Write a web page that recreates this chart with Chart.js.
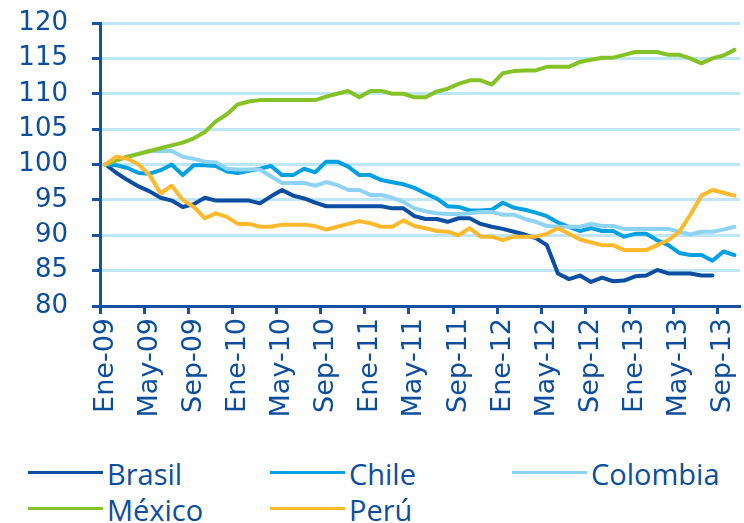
<!DOCTYPE html>
<html>
<head>
<meta charset="utf-8">
<script src="https://cdn.jsdelivr.net/npm/chart.js@4"></script>
<style>
  html, body { margin: 0; padding: 0; background: #fff; }
  .wrap { position: relative; width: 744px; height: 523px; overflow: hidden; }
  .chart-box { position: absolute; left: 0; top: 0; width: 744px; height: 450px; }
  .legend-item { position: absolute; font-family: "Open Sans", sans-serif; font-size: 29px; color: #0d4e9c; white-space: nowrap; }
  .legend-item span.swatch { position: absolute; left: 0; width: 75px; height: 3px; }
  .legend-item span.txt { position: absolute; left: 79px; top: 0; line-height: 1; }
</style>
</head>
<body>
<div class="wrap">
  <div class="chart-box"><canvas id="indexChart"></canvas></div>
  <div class="legend-container"></div>
</div>
<script>
const labels = [
  "Ene-09","Feb-09","Mar-09","Abr-09","May-09","Jun-09","Jul-09","Ago-09","Sep-09","Oct-09","Nov-09","Dic-09",
  "Ene-10","Feb-10","Mar-10","Abr-10","May-10","Jun-10","Jul-10","Ago-10","Sep-10","Oct-10","Nov-10","Dic-10",
  "Ene-11","Feb-11","Mar-11","Abr-11","May-11","Jun-11","Jul-11","Ago-11","Sep-11","Oct-11","Nov-11","Dic-11",
  "Ene-12","Feb-12","Mar-12","Abr-12","May-12","Jun-12","Jul-12","Ago-12","Sep-12","Oct-12","Nov-12","Dic-12",
  "Ene-13","Feb-13","Mar-13","Abr-13","May-13","Jun-13","Jul-13","Ago-13","Sep-13","Oct-13"
];

const brasil = [100, 98.8, 97.8, 96.9, 96.2, 95.3, 94.9, 94.0, 94.4, 95.3,
  94.9, 94.9, 94.9, 94.9, 94.5, 95.5, 96.4, 95.6, 95.2, 94.6,
  94.1, 94.1, 94.1, 94.1, 94.1, 94.1, 93.8, 93.8, 92.7, 92.3,
  92.3, 91.9, 92.4, 92.4, 91.6, 91.2, 90.9, 90.5, 90.1, 89.6,
  88.6, 84.6, 83.8, 84.3, 83.4, 84.0, 83.5, 83.6, 84.2, 84.3,
  85.1, 84.6, 84.6, 84.6, 84.3, 84.3, null, null];

const chile = [100, 99.9, 99.5, 98.8, 98.7, 99.2, 100.0, 98.5, 99.9, 99.9,
  99.8, 99.0, 98.8, 99.1, 99.4, 99.8, 98.5, 98.5, 99.4, 98.9,
  100.4, 100.4, 99.7, 98.5, 98.5, 97.8, 97.5, 97.2, 96.7, 95.9,
  95.2, 94.1, 94.0, 93.5, 93.5, 93.6, 94.6, 93.9, 93.6, 93.2,
  92.7, 91.8, 91.2, 90.6, 91.0, 90.6, 90.6, 89.8, 90.2, 90.2,
  89.3, 88.6, 87.5, 87.2, 87.2, 86.4, 87.7, 87.2];

const colombia = [100, 100.6, 101.1, 101.5, 101.9, 101.9, 101.9, 101.1, 100.8, 100.4,
  100.3, 99.4, 99.3, 99.3, 99.3, 98.3, 97.4, 97.4, 97.4, 97.0,
  97.5, 97.1, 96.4, 96.4, 95.7, 95.7, 95.3, 94.7, 93.8, 93.4,
  93.1, 93.0, 93.0, 93.1, 93.3, 93.3, 92.9, 92.9, 92.3, 91.9,
  91.3, 91.2, 91.2, 91.2, 91.6, 91.3, 91.3, 90.9, 90.9, 90.9,
  90.9, 90.9, 90.5, 90.1, 90.5, 90.5, 90.8, 91.2];

const mexico = [100, 100.6, 101.1, 101.5, 101.9, 102.3, 102.7, 103.1, 103.7, 104.6,
  106.1, 107.1, 108.5, 108.9, 109.1, 109.1, 109.1, 109.1, 109.1, 109.1,
  109.6, 110.0, 110.4, 109.5, 110.4, 110.4, 110.0, 110.0, 109.5, 109.5,
  110.3, 110.7, 111.4, 111.9, 111.9, 111.3, 112.9, 113.2, 113.3, 113.3,
  113.8, 113.8, 113.8, 114.5, 114.8, 115.1, 115.1, 115.5, 115.9, 115.9,
  115.9, 115.5, 115.5, 115.0, 114.3, 115.0, 115.4, 116.2];

const peru = [100, 101.1, 100.8, 100.0, 98.5, 95.9, 97.0, 95.0, 94.0, 92.4,
  93.1, 92.6, 91.6, 91.6, 91.2, 91.2, 91.5, 91.5, 91.5, 91.3,
  90.8, 91.2, 91.6, 92.0, 91.7, 91.2, 91.2, 92.1, 91.3, 91.0,
  90.6, 90.5, 90.0, 91.0, 89.8, 89.8, 89.3, 89.8, 89.8, 89.8,
  90.2, 91.0, 90.2, 89.4, 89.0, 88.6, 88.6, 87.9, 87.9, 87.9,
  88.6, 89.3, 90.5, 92.9, 95.6, 96.4, 96.0, 95.6];

const yMin = 80, yMax = 120, yStep = 5;

const axisBlue = "#1652a1";
const textBlue = "#0d4e9c";
const gridBlue = "#bfe6f7";

const series = [
  { name: "Brasil",   data: brasil,   color: "#0b4ea2", order: 5 },
  { name: "Chile",    data: chile,    color: "#00a0e2", order: 4 },
  { name: "Colombia", data: colombia, color: "#8ed3f4", order: 3 },
  { name: "México",   data: mexico,   color: "#85c225", order: 2 },
  { name: "Perú",     data: peru,     color: "#fdb92e", order: 1 }
];

const datasets = series.map(s => ({
  label: s.name,
  data: s.data,
  borderColor: s.color,
  backgroundColor: s.color,
  borderWidth: 4,
  pointRadius: 0,
  tension: 0,
  borderJoinStyle: "round",
  borderCapStyle: "round",
  order: s.order
}));

const ctx = document.getElementById("indexChart").getContext("2d");

new Chart(ctx, {
  type: "line",
  data: { labels: labels, datasets: datasets },
  options: {
    responsive: true,
    maintainAspectRatio: false,
    animation: false,
    layout: { padding: { top: 23, right: 4, left: 0, bottom: 0 } },
    plugins: {
      legend: { display: false },
      tooltip: { enabled: false }
    },
    scales: {
      x: {
        type: "category",
        offset: true,
        afterFit: (scale) => {
          scale.height = 144;
          scale.paddingLeft = 0;
          scale.paddingRight = 0;
        },
        grid: {
          offset: true,
          drawOnChartArea: false,
          drawTicks: true,
          tickLength: 8,
          tickWidth: 3,
          tickColor: (c) => (c.index % 4 === 0 ? axisBlue : "rgba(0,0,0,0)")
        },
        border: { color: axisBlue, width: 3 },
        ticks: {
          autoSkip: false,
          minRotation: 90,
          maxRotation: 90,
          padding: 4,
          color: textBlue,
          font: { family: "DejaVu Sans", size: 27 },
          callback: function (value, index) {
            return index % 4 === 0 ? labels[index] : "";
          }
        }
      },
      y: {
        min: yMin,
        max: yMax,
        afterFit: (scale) => {
          scale.width = 100;
          scale.paddingTop = 0;
          scale.paddingBottom = 0;
        },
        grid: {
          color: gridBlue,
          lineWidth: 3,
          tickLength: 8,
          tickColor: axisBlue,
          tickWidth: 3
        },
        border: { color: axisBlue, width: 3 },
        ticks: {
          stepSize: yStep,
          padding: 24,
          color: textBlue,
          font: { family: "DejaVu Sans", size: 26 }
        }
      }
    }
  }
});

// legend laid out as a grid, like the original
const legendSpots = [
  { left: 28,  top: 472 },
  { left: 270, top: 472 },
  { left: 512, top: 472 },
  { left: 28,  top: 508 },
  { left: 270, top: 508 }
];

let legendHTML = "";
series.forEach((s, i) => {
  const spot = legendSpots[i];
  legendHTML += `
    <div class="legend-item" style="left:${spot.left}px; top:${spot.top}px;">
      <span class="swatch" style="background:${s.color}; top:-1px;"></span>
      <span class="txt" style="top:-13px;">${s.name}</span>
    </div>`;
});
document.querySelector(".legend-container").innerHTML = legendHTML;
</script>
</body>
</html>
